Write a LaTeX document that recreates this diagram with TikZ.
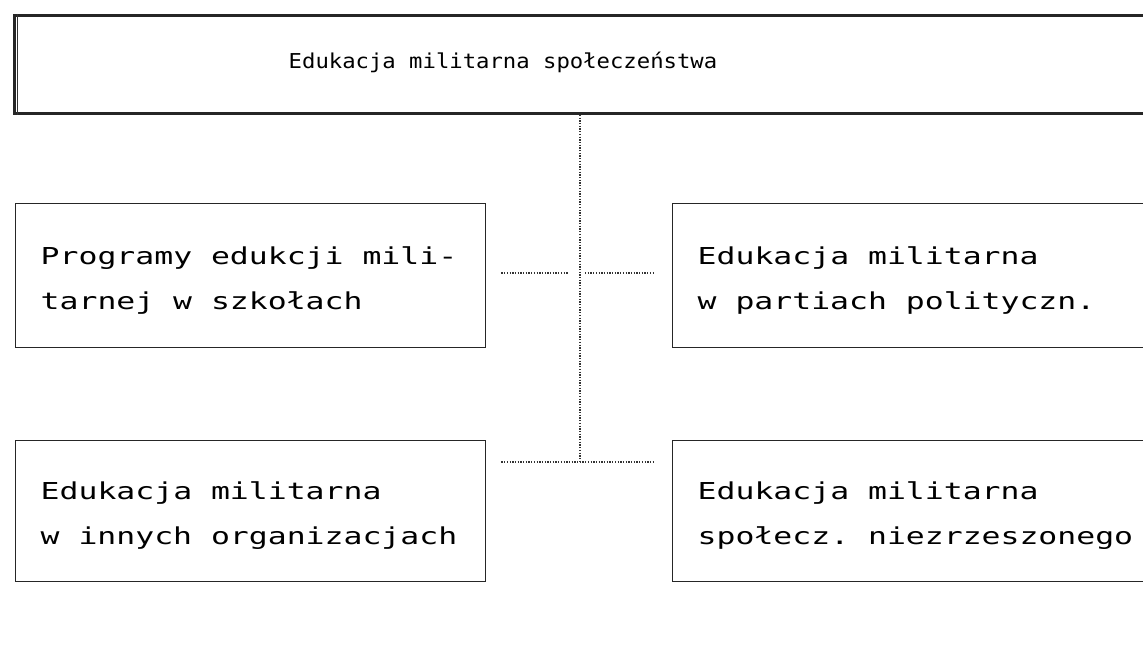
\documentclass[tikz,border=0pt]{standalone}
\usepackage{fontspec}
\newfontfamily\boxfont[FakeStretch=1.35]{DejaVu Sans Mono}
\newfontfamily\titlefont[FakeStretch=1.085]{DejaVu Sans Mono}
\newcommand\myboxfnt{\boxfont\fontsize{23.3}{45}\selectfont}
\newcommand\mytitlefnt{\titlefont\fontsize{20.5}{24}\selectfont}
\newcommand\gap{\hspace{18.9pt}}
\newcommand\gapt{\hspace{13.4pt}}
\begin{document}
\begin{tikzpicture}[x=1pt,y=-1pt,
  box/.style={draw=black!85, line width=1.4pt, rectangle, anchor=north west,
    minimum height=144pt, inner xsep=25pt, inner ysep=0pt, align=left,
    text height=27pt, font=\myboxfnt},
  dots/.style={draw=black!80, line width=1.5pt, dash pattern=on 1.3pt off 1.4pt}
]
\useasboundingbox (0,0) rectangle (1143,666);
\begin{scope}
\clip (0,0) rectangle (1143,666);
\node[draw=black!85, line width=3pt,
  anchor=north west, minimum width=1160pt, minimum height=98pt, inner sep=0pt] (head) at (13,14) {};
\draw[black!80, line width=1.2pt] ([xshift=4.5pt]head.north west) -- ([xshift=4.5pt]head.south west);
\node[font=\mytitlefnt] (title) at (503,62) {Edukacja\gapt militarna\gapt społeczeństwa};

\node[box, text width=420pt, minimum width=470pt] (L1) at (15,203) {Programy\gap edukcji\gap mili-\\tarnej\gap w\gap szkołach};
\node[box, text width=445pt, minimum width=495pt] (R1) at (672,203) {Edukacja\gap militarna\\w\gap partiach\gap polityczn.};
\node[box, text width=420pt, minimum width=470pt, minimum height=141pt] (L2) at (15,440) {Edukacja\gap militarna\\w\gap innych\gap organizacjach};
\node[box, text width=445pt, minimum width=495pt, minimum height=141pt] (R2) at (672,440) {Edukacja\gap militarna\\społecz.\gap niezrzeszonego};

\coordinate (j1) at (580,273);
\coordinate (j2) at (580,462);

\draw[dots] (head.south -| j2) -- (j2);
\draw[dots, shorten <=15pt, shorten >=12pt] (j1 -| L1.east) -- (j1);
\draw[dots, shorten <=5pt, shorten >=17pt] (j1) -- (j1 -| R1.west);
\draw[dots, shorten <=15pt, shorten >=17pt] (j2 -| L2.east) -- (j2 -| R2.west);
\end{scope}
\end{tikzpicture}
\end{document}
